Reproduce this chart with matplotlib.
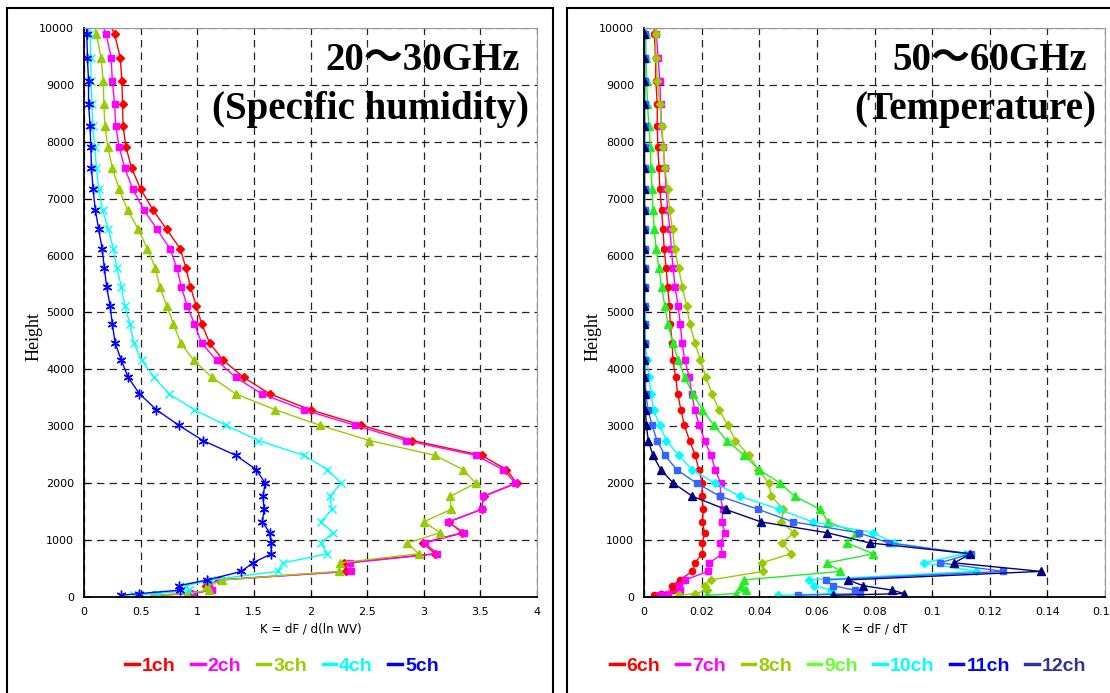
import matplotlib.pyplot as plt
from matplotlib.lines import Line2D
from matplotlib.patches import Rectangle
from matplotlib.ticker import FormatStrFormatter, MultipleLocator

# model levels (m), bottom to top; the last one lies above the plotted range
heights = [30, 60, 120, 200, 300, 450, 600, 760, 950, 1130, 1320, 1540, 1770,
           2000, 2240, 2490, 2750, 3020, 3290, 3570, 3860, 4160, 4460, 4800,
           5120, 5450, 5780, 6120, 6460, 6800, 7170, 7540, 7910, 8280, 8670,
           9070, 9480, 9890, 10300]

# 20-30 GHz channels, K = dF / d(ln WV)
ch1 = [0.62, 0.95, 1.10, 1.08, 1.19, 2.31, 2.30, 3.10, 2.99, 3.34, 3.22, 3.51, 3.53,
       3.82, 3.73, 3.51, 2.90, 2.45, 2.00, 1.64, 1.41, 1.23, 1.11, 1.04,
       0.99, 0.94, 0.90, 0.85, 0.73, 0.61, 0.50, 0.42, 0.37, 0.345, 0.34,
       0.335, 0.32, 0.27, 0.18]
ch2 = [0.63, 0.96, 1.13, 1.10, 1.21, 2.355, 2.35, 3.12, 3.01, 3.355, 3.215, 3.51, 3.525,
       3.81, 3.70, 3.46, 2.845, 2.39, 1.94, 1.57, 1.34, 1.17, 1.04, 0.975,
       0.91, 0.86, 0.82, 0.76, 0.645, 0.53, 0.43, 0.36, 0.31, 0.28, 0.27,
       0.25, 0.24, 0.195, 0.12]
ch3 = [0.60, 0.91, 1.10, 1.09, 1.22, 2.25, 2.26, 2.955, 2.855, 3.145, 3.0, 3.24, 3.235,
       3.46, 3.345, 3.10, 2.52, 2.08, 1.69, 1.34, 1.13, 0.97, 0.855, 0.79,
       0.73, 0.67, 0.63, 0.56, 0.48, 0.385, 0.31, 0.25, 0.21, 0.185, 0.175,
       0.17, 0.15, 0.11, 0.07]
ch4 = [0.44, 0.65, 0.93, 0.90, 1.12, 1.71, 1.76, 2.15, 2.09, 2.20, 2.09, 2.19, 2.17,
       2.27, 2.15, 1.94, 1.54, 1.25, 0.975, 0.75, 0.62, 0.51, 0.44, 0.405,
       0.36, 0.33, 0.29, 0.26, 0.215, 0.165, 0.13, 0.11, 0.095, 0.076, 0.07,
       0.063, 0.06, 0.054, 0.045]
ch5 = [0.33, 0.49, 0.85, 0.84, 1.09, 1.39, 1.49, 1.655, 1.65, 1.64, 1.575, 1.59, 1.58,
       1.60, 1.52, 1.34, 1.05, 0.835, 0.64, 0.49, 0.39, 0.33, 0.275, 0.25,
       0.23, 0.20, 0.18, 0.16, 0.13, 0.10, 0.08, 0.066, 0.06, 0.054, 0.04,
       0.04, 0.03, 0.025, 0.02]

# 50-60 GHz channels, K = dF / dT
ch6 = [0.0036, 0.006, 0.010, 0.0098, 0.0124, 0.0168, 0.0176, 0.0203, 0.0203, 0.021, 0.0203, 0.0206, 0.020,
       0.0203, 0.019, 0.0178, 0.0158, 0.014, 0.0128, 0.0117, 0.011, 0.010, 0.0098, 0.0091,
       0.0088, 0.0082, 0.0077, 0.007, 0.0066, 0.0061, 0.0055, 0.0052, 0.0048, 0.0046, 0.0046,
       0.0041, 0.004, 0.0036, 0.0033]
ch7 = [0.0056, 0.0083, 0.0124, 0.012, 0.0143, 0.0221, 0.0227, 0.0272, 0.0265, 0.0281, 0.027, 0.0274, 0.0265,
       0.0266, 0.0247, 0.0233, 0.021, 0.0192, 0.0176, 0.0166, 0.0157, 0.0142, 0.0132, 0.0126,
       0.0118, 0.0108, 0.0101, 0.0095, 0.009, 0.0082, 0.0077, 0.0072, 0.0067, 0.006, 0.0058,
       0.0055, 0.0049, 0.0043, 0.0035]
ch8 = [0.0122, 0.0177, 0.0218, 0.021, 0.0232, 0.0414, 0.0408, 0.051, 0.048, 0.052, 0.0477, 0.0484, 0.0442,
       0.0433, 0.0396, 0.0364, 0.0317, 0.0291, 0.026, 0.0236, 0.0215, 0.0196, 0.0177, 0.0159,
       0.0148, 0.0133, 0.012, 0.0106, 0.0099, 0.0089, 0.0082, 0.0072, 0.0067, 0.0061, 0.0055,
       0.0046, 0.0042, 0.004, 0.0035]
ch9 = [0.022, 0.0321, 0.0354, 0.0336, 0.0348, 0.0681, 0.0636, 0.0796, 0.0704, 0.0737, 0.0638, 0.0612, 0.0523,
       0.0473, 0.0398, 0.0348, 0.0287, 0.0242, 0.0203, 0.0169, 0.0142, 0.0119, 0.010, 0.0083,
       0.0072, 0.0061, 0.0052, 0.0042, 0.0036, 0.0031, 0.0028, 0.0024, 0.0022, 0.0017, 0.0012,
       0.0009, 0.0007, 0.0006, 0.0005]
ch10 = [0.0465, 0.0655, 0.065, 0.059, 0.0573, 0.1152, 0.0973, 0.1113, 0.0866, 0.0795, 0.0585, 0.0469, 0.0333,
        0.0246, 0.0167, 0.012, 0.0078, 0.0054, 0.0033, 0.0024, 0.0018, 0.001, 0.0005, 0.0005,
        0.0004, 0.0004, 0.0004, 0.0003, 0.0003, 0.0003, 0.0003, 0.0003, 0.0003, 0.0003, 0.0003,
        0.0003, 0.0003, 0.0003, 0.0003]
ch11 = [0.0535, 0.0748, 0.0731, 0.0656, 0.063, 0.1247, 0.1027, 0.1134, 0.0849, 0.0745, 0.0517, 0.0397, 0.0264,
        0.0183, 0.0113, 0.0073, 0.0045, 0.0028, 0.0014, 0.0006, 0.0005, 0.0003, 0.0003, 0.0002,
        0.0002, 0.0002, 0.0002, 0.0002, 0.0002, 0.0002, 0.0002, 0.0002, 0.0002, 0.0002, 0.0002,
        0.0002, 0.0002, 0.0002, 0.0002]
ch12 = [0.0657, 0.0903, 0.0861, 0.076, 0.0708, 0.1378, 0.1077, 0.1133, 0.0784, 0.0635, 0.0406, 0.0283, 0.0168,
        0.0102, 0.0058, 0.0031, 0.0015, 0.0008, 0.0005, 0.0003, 0.0001, 0.0001, 0.0001, 0.0001,
        0.0001, 0.0001, 0.0001, 0.0001, 0.0001, 0.0001, 0.0001, 0.0001, 0.0001, 0.0001, 0.0001,
        0.0001, 0.0001, 0.0001, 0.0001]

wv_labels = ['1ch', '2ch', '3ch', '4ch', '5ch']
t_labels = ['6ch', '7ch', '8ch', '9ch', '10ch', '11ch', '12ch']

wv_series = [ch1, ch2, ch3, ch4, ch5]
t_series = [ch6, ch7, ch8, ch9, ch10, ch11, ch12]

# (line colour, marker, marker size, legend colour)
wv_style = [('#FF0000', 'D', 4.0, '#FF0000'),
            ('#FF00FF', 's', 4.5, '#FF00FF'),
            ('#99CC00', '^', 5.5, '#99CC00'),
            ('#00FFFF', 'x', 5.5, '#00FFFF'),
            ('#0000FF', (6, 2, 0), 7.0, '#0000FF')]
t_style = [('#FF0000', 'o', 4.5, '#FF0000'),
           ('#FF00FF', 's', 4.5, '#FF00FF'),
           ('#99CC00', 'D', 4.5, '#99CC00'),
           ('#22EE22', '^', 5.5, '#66FF33'),
           ('#00FFFF', 'D', 4.5, '#00FFFF'),
           ('#3366FF', 's', 4.5, '#0000FF'),
           ('#000080', '^', 5.5, '#333399')]

W, H = 1110, 693


def fx(px):
    return px / W


def fy(py):
    return 1 - py / H


def draw_panel(ax, series, styles, labels, xmax, xstep, xlabel, fmt, leg_x):
    for vals, (col, mk, ms, _) in zip(series, styles):
        kw = dict(color=col, lw=1.0, marker=mk, ms=ms, clip_on=True)
        if mk in ('x',) or isinstance(mk, tuple):
            kw['mew'] = 1.0
        else:
            kw['mec'] = col
            kw['mfc'] = col
        ax.plot(vals, heights, **kw)

    ax.set_xlim(0, xmax)
    ax.set_ylim(0, 10000)
    ax.xaxis.set_major_locator(MultipleLocator(xstep))
    ax.yaxis.set_major_locator(MultipleLocator(1000))
    ax.xaxis.set_major_formatter(FormatStrFormatter(fmt))
    ax.grid(True, color='black', lw=0.9, linestyle=(0, (6, 4)), alpha=0.85)
    ax.tick_params(direction='in', length=4, width=0.8, labelsize=8, pad=7,
                   top=False, right=False)
    for side in ('left', 'bottom'):
        ax.spines[side].set_linewidth(1.3)
    for side in ('top', 'right'):
        ax.spines[side].set_color('#999999')
        ax.spines[side].set_linewidth(0.8)
    ax.set_xlabel(xlabel, fontsize=8.5, labelpad=4)
    ax.set_ylabel('Height', family='Liberation Serif', fontsize=13)
    ax.yaxis.set_label_coords(-0.092, 0.457)

    handles = [Line2D([], [], color=lc, lw=2.5) for (_, _, _, lc) in styles]
    leg = ax.legend(handles, labels, loc='center',
                    bbox_to_anchor=(leg_x, -0.121), ncol=len(labels),
                    frameon=False, handlelength=0.7, handletextpad=0.15,
                    columnspacing=0.8, borderaxespad=0, borderpad=0,
                    prop={'family': 'Liberation Sans', 'weight': 'bold', 'size': 14})
    for txt, (_, _, _, lc) in zip(leg.get_texts(), styles):
        txt.set_color(lc)


fig = plt.figure(figsize=(W / 100, H / 100), dpi=100)

# panel frames
fig.patches.append(Rectangle((fx(7), fy(720)), fx(553) - fx(7), fy(8) - fy(720),
                             transform=fig.transFigure, fill=False,
                             edgecolor='black', lw=1.5))
fig.patches.append(Rectangle((fx(567), fy(720)), fx(1130) - fx(567), fy(8) - fy(720),
                             transform=fig.transFigure, fill=False,
                             edgecolor='black', lw=1.5))

ax1 = fig.add_axes([fx(84), fy(597), fx(537) - fx(84), fy(28) - fy(597)])
ax2 = fig.add_axes([fx(644), fy(597), fx(1105) - fx(644), fy(28) - fy(597)])

draw_panel(ax1, wv_series, wv_style, wv_labels, 4, 0.5, 'K = dF / d(ln WV)', '%g', 0.437)
draw_panel(ax2, t_series, t_style, t_labels, 0.16, 0.02, 'K = dF / dT', '%g', 0.443)

title_font = dict(family=['Liberation Serif', 'Noto Sans CJK JP'], weight='bold',
                  fontsize=28, ha='right', va='baseline')
fig.text(fx(520), fy(70), '20～30GHz', **title_font)
fig.text(fx(529), fy(119), '(Specific humidity)', **title_font)
fig.text(fx(1087), fy(70), '50～60GHz', **title_font)
fig.text(fx(1096), fy(119), '(Temperature)', **title_font)

fig.savefig('out.png', dpi=100)
